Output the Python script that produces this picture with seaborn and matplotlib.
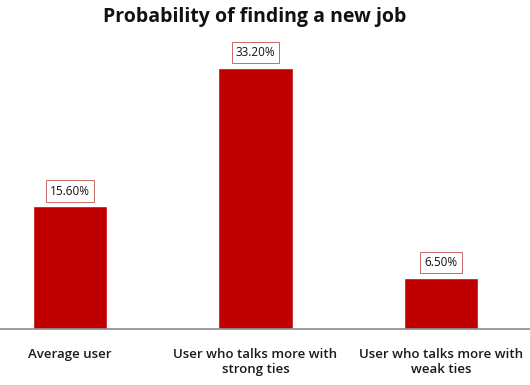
import matplotlib
matplotlib.use("Agg")
import matplotlib.pyplot as plt
import seaborn as sns
import pandas as pd

# --------------------------------------------------------------
# Data
# --------------------------------------------------------------

categories = ["Average user", "User who talks more with\nstrong ties", "User who talks more with\nweak ties"]
values = [15.6, 33.2, 6.5]
value_labels = ["15.60%", "33.20%", "6.50%"]

df = pd.DataFrame({"category": categories, "value": values})

# --------------------------------------------------------------
# Plot
# --------------------------------------------------------------

sns.set_style("white")
plt.rcParams["font.family"] = ["Open Sans", "DejaVu Sans"]

fig = plt.figure(figsize=(5.3, 3.85), dpi=100)
ax = fig.add_axes([0, 56 / 385, 1, 1 - 56 / 385 - 40 / 385])

sns.barplot(data=df, x="category", y="value", color="#c00000", width=0.4,
            saturation=1, ax=ax)

ax.set_xlim(-0.377, 2.48)
ax.set_ylim(0, 36.77)
ax.set_xlabel("")
ax.set_ylabel("")
ax.set_yticks([])
ax.tick_params(axis="x", length=0, pad=14, labelsize=9.5, colors="#1a1a1a")
for lab in ax.get_xticklabels():
    lab.set_fontweight("semibold")

for s in ["top", "right", "left"]:
    ax.spines[s].set_visible(False)
ax.spines["bottom"].set_color("#8c8c8c")
ax.spines["bottom"].set_linewidth(1.2)

# value boxes above each bar
for i, (v, t) in enumerate(zip(values, value_labels)):
    ax.annotate(t, (i, v), xytext=(0, 11), textcoords="offset points",
                ha="center", va="center", fontsize=8.5, color="#111111",
                bbox=dict(boxstyle="square,pad=0.35", fc="white", ec="#c0504d", lw=0.6))

fig.text(0.48, 0.955, "Probability of finding a new job", ha="center", va="center",
         fontsize=14, fontweight="bold", color="#111111")

fig.savefig("out.png", dpi=100)
